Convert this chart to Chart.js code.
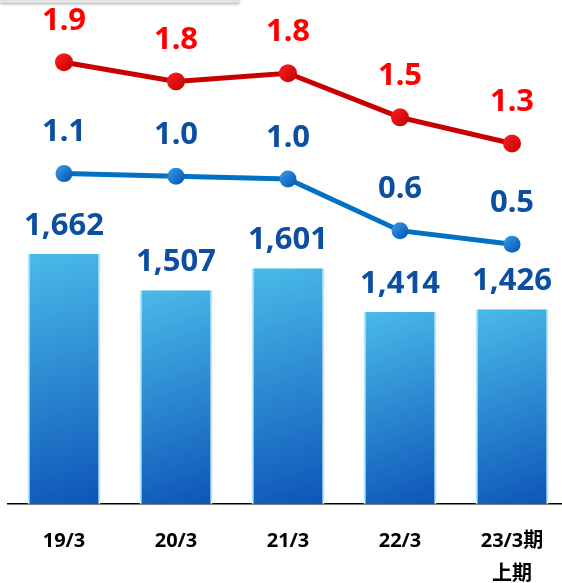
<!DOCTYPE html>
<html>
<head>
<meta charset="utf-8">
<script src="https://cdn.jsdelivr.net/npm/chart.js@4"></script>
<style>
  body { margin: 0; background: #fff; overflow: hidden; }
  #wrap { position: relative; width: 562px; height: 583px; overflow: hidden; }
  #strip { position: absolute; left: 0; top: 0; width: 240px; height: 3px; background: #e2e2e2;
           box-shadow: 0 1px 3px rgba(0,0,0,0.35); border-bottom-right-radius: 3px; }
  canvas { position: absolute; left: 0; top: 0; }
</style>
</head>
<body>
<div id="wrap">
  <canvas id="chart" width="568" height="612"></canvas>
  <div id="strip"></div>
</div>
<script>
// categories and values
var categories = ["19/3", "20/3", "21/3", "22/3", ["23/3期", "上期"]];
var barValues = [1662, 1507, 1601, 1414, 1426];
var redValues = [1.92, 1.78, 1.84, 1.52, 1.33];
var blueValues = [1.06, 1.04, 1.02, 0.64, 0.54];

var labelFont = "'Noto Sans', 'Noto Sans CJK JP', sans-serif";

function diagGradient(chart, x0, y0, x1, y1, c0, c1) {
  var g = chart.ctx.createLinearGradient(x0, y0, x1, y1);
  g.addColorStop(0, c0);
  g.addColorStop(1, c1);
  return g;
}

function barFill(c) {
  var chart = c.chart;
  if (!chart.chartArea || c.dataIndex === undefined) return "#3a9ad8";
  var x = chart.scales.x.getPixelForValue(c.dataIndex);
  var top = chart.scales.yb.getPixelForValue(barValues[c.dataIndex]);
  var bottom = chart.chartArea.bottom;
  return diagGradient(chart, x - 36, top, x + 36, bottom, "#4abbe9", "#0d55b8");
}

function pointFill(scaleId, values, r, c0, c1) {
  return function (c) {
    var chart = c.chart;
    if (!chart.chartArea || c.dataIndex === undefined) return c1;
    var x = chart.scales.x.getPixelForValue(c.dataIndex);
    var y = chart.scales[scaleId].getPixelForValue(values[c.dataIndex]);
    return diagGradient(chart, x - r, y - r, x + r, y + r, c0, c1);
  };
}

var valueLabels = {
  id: "valueLabels",
  afterDatasetsDraw: function (chart) {
    var ctx = chart.ctx;
    ctx.save();
    ctx.textAlign = "center";
    ctx.textBaseline = "middle";
    ctx.font = "bold 31px " + labelFont;
    chart.data.datasets.forEach(function (ds, i) {
      var meta = chart.getDatasetMeta(i);
      meta.data.forEach(function (el, j) {
        var v = ds.data[j];
        var text, offset;
        if (ds.type === "bar") {
          text = v.toLocaleString("en-US");
          offset = 28;
          ctx.fillStyle = "#0b4ea2";
        } else {
          text = v.toFixed(1);
          offset = 41;
          ctx.fillStyle = ds.labelColor;
        }
        ctx.fillText(text, el.x, el.y - offset);
      });
    });
    ctx.restore();
  }
};

var chart = new Chart(document.getElementById("chart").getContext("2d"), {
  type: "bar",
  data: {
    labels: categories,
    datasets: [
      {
        type: "line",
        data: redValues,
        yAxisID: "yr",
        borderColor: "#c80000",
        borderWidth: 5,
        pointRadius: 9,
        pointBorderWidth: 0,
        pointBackgroundColor: pointFill("yr", redValues, 9, "#ff2020", "#c00000"),
        labelColor: "#ff0000",
        order: 0
      },
      {
        type: "line",
        data: blueValues,
        yAxisID: "yl",
        borderColor: "#0072c4",
        borderWidth: 5,
        pointRadius: 8.5,
        pointBorderWidth: 0,
        pointBackgroundColor: pointFill("yl", blueValues, 8.5, "#3aa0e6", "#0050b4"),
        labelColor: "#0b4ea2",
        order: 1
      },
      {
        type: "bar",
        data: barValues,
        yAxisID: "yb",
        backgroundColor: barFill,
        borderColor: "#b8e6f6",
        borderWidth: { left: 2, right: 2, top: 0, bottom: 0 },
        borderSkipped: false,
        barPercentage: 0.65,
        categoryPercentage: 1,
        order: 2
      }
    ]
  },
  options: {
    responsive: false,
    animation: false,
    layout: { autoPadding: false, padding: { left: 8, right: 0, top: 0, bottom: 0 } },
    plugins: {
      legend: { display: false },
      tooltip: { enabled: false }
    },
    scales: {
      x: {
        grid: { drawOnChartArea: false, drawTicks: false },
        border: { display: true, color: "#000", width: 1.5 },
        ticks: {
          color: "#000",
          padding: 21,
          maxRotation: 0,
          autoSkip: false,
          font: { family: labelFont, size: 20, weight: "bold", lineHeight: 1.65 }
        }
      },
      yb: { display: false, min: 597, max: 2743 },
      yr: { display: false, min: -1.285, max: 2.371 },
      yl: { display: false, min: -1.372, max: 2.338 }
    }
  },
  plugins: [valueLabels]
});
</script>
</body>
</html>
